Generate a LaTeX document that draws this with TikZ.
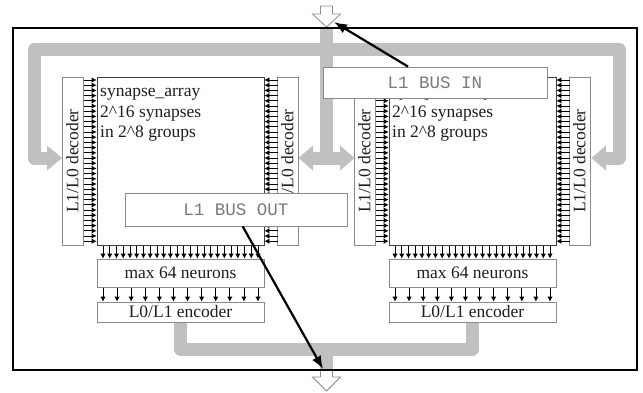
\documentclass[tikz,border=0pt]{standalone}
\usepackage{fontspec}
\setmainfont{Liberation Serif}
\newfontfamily\busfont{Liberation Mono}
\usetikzlibrary{arrows.meta,calc}
\definecolor{busgray}{HTML}{C0C0C0}
\definecolor{boxline}{HTML}{8A8A8A}
\definecolor{txt}{HTML}{1E1E1E}
\definecolor{bustxt}{HTML}{7A7A7A}
\begin{document}
\begin{tikzpicture}[x=1pt,y=-1pt,
  bus/.style={draw=busgray, line width=13pt, line join=round},
  blk/.style={draw=boxline, line width=0.8pt, fill=white, inner sep=0pt, outer sep=0pt},
  synbox/.style={draw=black!75, line width=0.9pt, fill=white, inner sep=0pt, outer sep=0pt},
  lbl/.style={font=\fontsize{17.5}{20}\selectfont, text=txt, inner sep=0pt},
  busbox/.style={draw=boxline, line width=0.8pt, fill=white, inner sep=0pt,
    font=\busfont\fontsize{17.5}{20}\selectfont, text=bustxt},
  hollow/.style={draw=black!45, line width=0.8pt, fill=white},
  sarrow/.style={-{Latex[length=5pt,width=5.4pt]}, line width=0.8pt, black},
  bigarrow/.style={-{Latex[length=13pt,width=10pt]}, line width=2.2pt, black}]
\useasboundingbox (0,0) rectangle (643,392);
\fill[white] (0,0) rectangle (643,392);

% gray buses
\draw[bus] (48,158) -- (34.5,158) -- (34.5,49.5) -- (619,49.5) -- (619,158) -- (605,158);
\fill[busgray] (47,145.5) -- (62,158) -- (47,170.5) -- cycle;
\fill[busgray] (606,145.5) -- (591.5,158) -- (606,170.5) -- cycle;
\draw[bus] (326.5,27) -- (326.5,158);
\draw[bus] (312,158) -- (341,158);
\fill[busgray] (313,145.5) -- (298.5,158) -- (313,170.5) -- cycle;
\fill[busgray] (340,145.5) -- (354.5,158) -- (340,170.5) -- cycle;
\draw[bus] (180.5,322) -- (180.5,349) -- (472.5,349) -- (472.5,322);
\draw[bus] (326.5,349) -- (326.5,371);

% hollow arrows
\draw[hollow] (320.5,6) -- (332.5,6) -- (332.5,14) -- (340.5,14) -- (326.5,27) -- (312.5,14) -- (320.5,14) -- cycle;
\draw[hollow] (320.5,371) -- (320.5,377) -- (312.5,377) -- (326.5,391) -- (340.5,377) -- (332.5,377) -- (332.5,371);
\coordinate (inTip) at (334,22);
\coordinate (outTip) at (323,369);

% frame
\draw[line width=2pt] (13,28) rectangle (637,370);

% blocks
\foreach \dx/\k in {0/1,292/2}{
  \node[blk, rotate=90, minimum width=168pt, minimum height=21pt, lbl] (decL\k) at (72.5+\dx,161) {L1/L0 decoder};
  \node[blk, rotate=90, minimum width=168pt, minimum height=21pt, lbl] (decR\k) at (287.5+\dx,161) {L1/L0 decoder};
  \node[synbox, minimum width=167pt, minimum height=168pt] (syn\k) at (180.5+\dx,161) {};
  \node[lbl, anchor=base west] (sa\k) at (100+\dx,96.5) {synapse\_array};
  \node[lbl, anchor=base west] (sb\k) at (100+\dx,117) {2\^{}16 synapses};
  \node[lbl, anchor=base west] (sc\k) at (100+\dx,137.5) {in 2\^{}8 groups};
  \node[blk, minimum width=167pt, minimum height=28pt, lbl] (neu\k) at (180.5+\dx,273) {max 64 neurons};
  \node[blk, minimum width=167pt, minimum height=20pt, lbl] (enc\k) at (180.5+\dx,312) {L0/L1 encoder};
  \foreach \i in {0,...,31}{
    \draw[sarrow] (83.5+\dx,80+\i*5.2) -- (96.6+\dx,80+\i*5.2);
    \draw[sarrow] (277.5+\dx,80+\i*5.2) -- (264.4+\dx,80+\i*5.2);
  }
  \foreach \i in {0,...,23}{
    \draw[sarrow] (103+\dx+\i*6.74,245.5) -- (103+\dx+\i*6.74,258.6);
  }
  \foreach \i in {0,...,11}{
    \draw[sarrow] (103+\dx+\i*14.09,287.5) -- (103+\dx+\i*14.09,301.6);
  }
}

% bus boxes
\node[busbox, minimum width=222pt, minimum height=33pt] (busout) at (236,209.5) {L1 BUS OUT};
\node[busbox, minimum width=224pt, minimum height=31pt] (busin) at (435,82.5) {L1 BUS IN};

% black arrows
\draw[bigarrow] ($(busin.north west)!0.38!(busin.north east)$) -- (inTip);
\draw[bigarrow] ($(busout.south west)!0.53!(busout.south east)$) -- (outTip);
\end{tikzpicture}
\end{document}
